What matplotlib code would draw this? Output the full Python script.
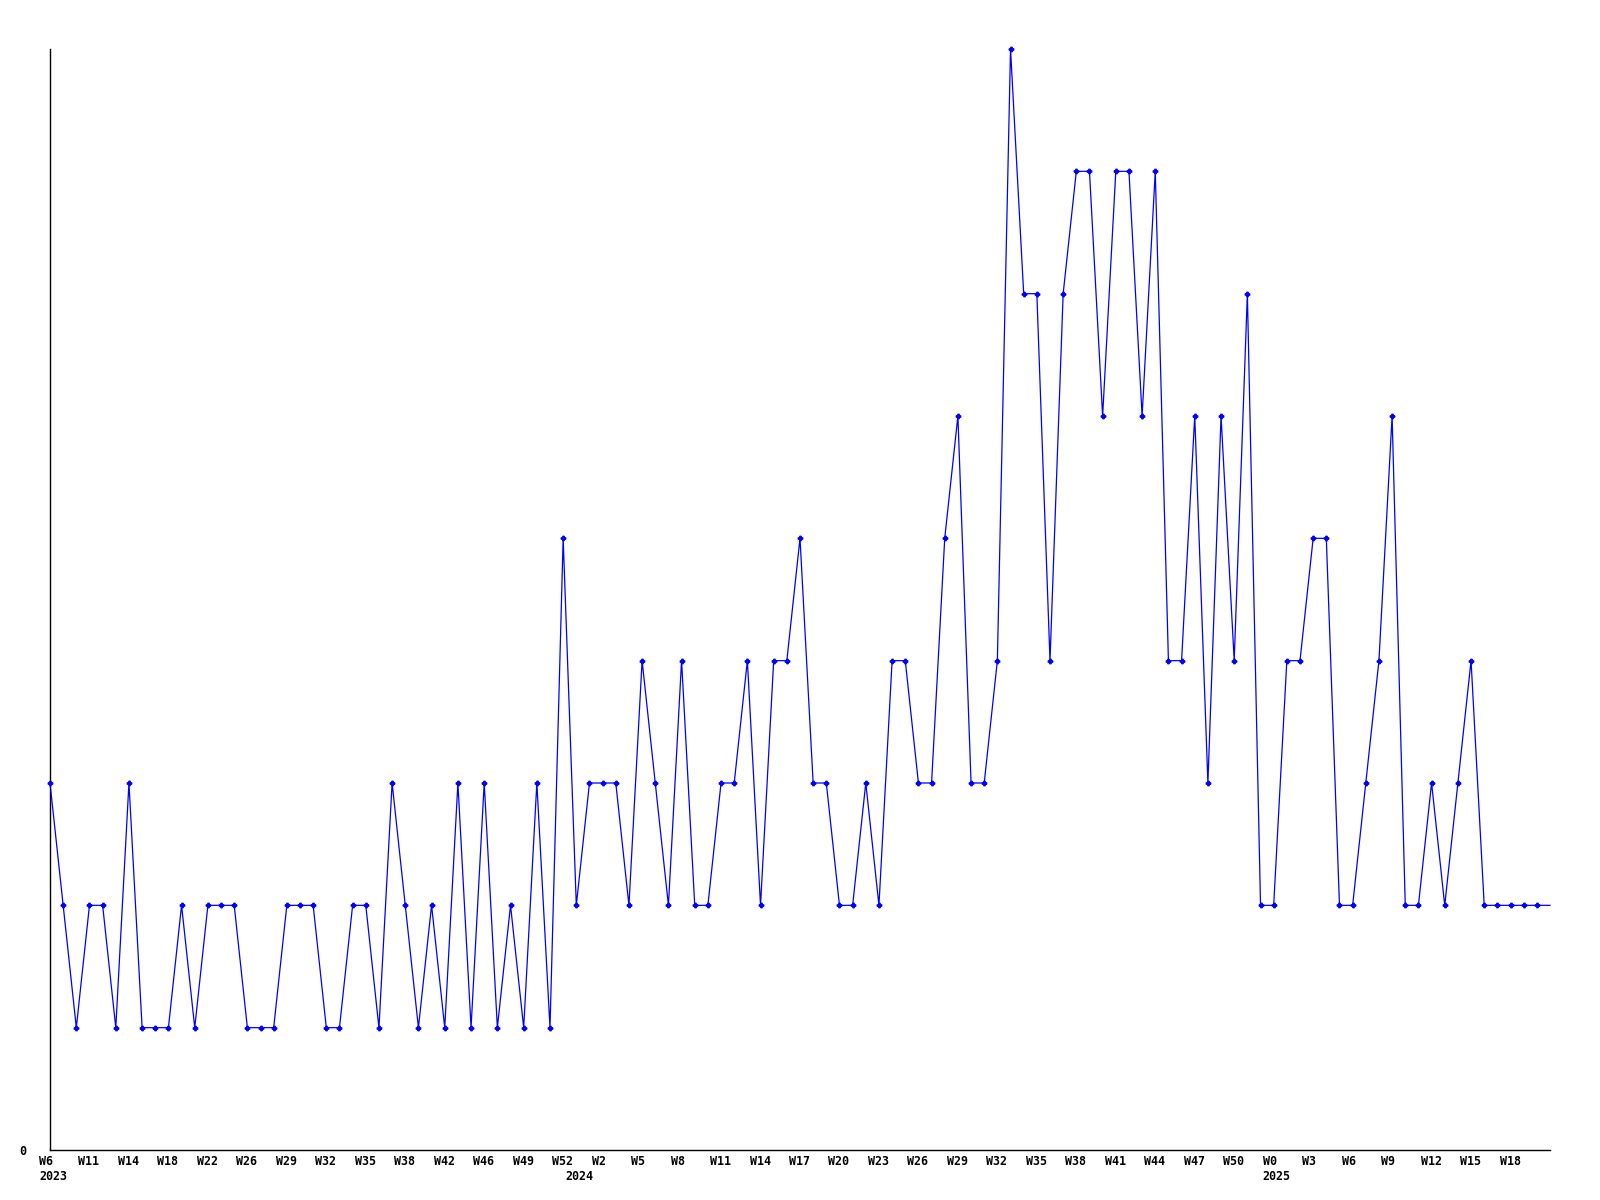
import matplotlib
matplotlib.use("Agg")
import matplotlib.pyplot as plt

# ---- data (one value per sample) ----
values = [3, 2, 1, 2, 2, 1, 3, 1, 1, 1, 2, 1, 2, 2, 2, 1, 1, 1, 2, 2,
          2, 1, 1, 2, 2, 1, 3, 2, 1, 2, 1, 3, 1, 3, 1, 2, 1, 3, 1, 5,
          2, 3, 3, 3, 2, 4, 3, 2, 4, 2, 2, 3, 3, 4, 2, 4, 4, 5, 3, 3,
          2, 2, 3, 2, 4, 4, 3, 3, 5, 6, 3, 3, 4, 9, 7, 7, 4, 7, 8, 8,
          6, 8, 8, 6, 8, 4, 4, 6, 3, 6, 4, 7, 2, 2, 4, 4, 5, 5, 2, 2,
          3, 4, 6, 2, 2, 3, 2, 3, 4, 2, 2, 2, 2, 2, 2]

week_labels = ["W6", "W11", "W14", "W18", "W22", "W26", "W29", "W32", "W35",
               "W38", "W42", "W46", "W49", "W52",
               "W2", "W5", "W8", "W11", "W14", "W17", "W20", "W23", "W26",
               "W29", "W32", "W35", "W38", "W41", "W44", "W47", "W50",
               "W0", "W3", "W6", "W9", "W12", "W15", "W18"]
week_label_index = list(range(0, 40, 3)) + list(range(42, 112, 3))

year_labels = ["2023", "2024", "2025"]
year_label_index = [0, 40, 93]

# ---- figure ----
fig = plt.figure(figsize=(16, 12), dpi=100)
ax = fig.add_axes([50 / 1600, 50 / 1200, 1500 / 1600, 1101 / 1200])

x = list(range(len(values)))
ax.plot(x, values, color="#0000ff", lw=0.9, marker="P", ms=3.2,
        markevery=list(range(len(values) - 1)), clip_on=False, zorder=3)

ax.set_xlim(0, len(values) - 1)
ax.set_ylim(0, max(values))

for s in ("top", "right"):
    ax.spines[s].set_visible(False)
for s in ("left", "bottom"):
    ax.spines[s].set_color("black")
    ax.spines[s].set_linewidth(1.0)

ax.set_xticks([])
ax.set_yticks([0])
ax.set_yticklabels(["0"], family="DejaVu Sans Mono", fontweight="bold",
                   fontsize=8.4)
ax.tick_params(axis="y", length=0, pad=17)

font = dict(family="DejaVu Sans Mono", fontweight="bold", fontsize=8.4,
            color="black")
for lab, idx in zip(week_labels, week_label_index):
    ax.annotate(lab, xy=(idx, 0), xycoords=("data", "axes fraction"),
                xytext=(-11, -5), textcoords="offset pixels",
                ha="left", va="top", annotation_clip=False, **font)
for lab, idx in zip(year_labels, year_label_index):
    ax.annotate(lab, xy=(idx, 0), xycoords=("data", "axes fraction"),
                xytext=(-11, -20), textcoords="offset pixels",
                ha="left", va="top", annotation_clip=False, **font)

fig.savefig("out.png", dpi=100, facecolor="white")
